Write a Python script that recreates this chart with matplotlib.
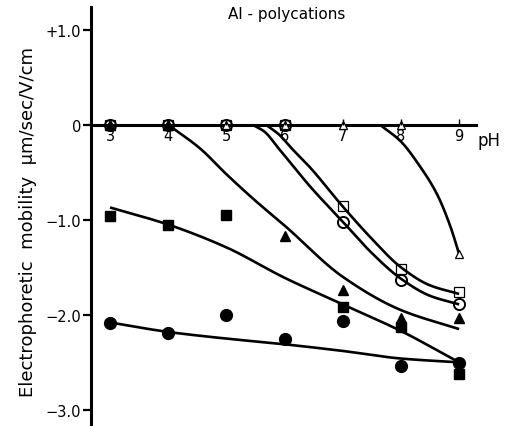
import matplotlib
matplotlib.use("Agg")
import matplotlib.pyplot as plt
import numpy as np

plt.rcParams['font.family'] = ['DejaVu Sans']

# measured points
ph = [3, 4, 5, 6, 7, 8, 9]
filled_circle = [-2.09, -2.19, -2.0, -2.25, -2.06, -2.54, -2.51]
sq_ph = [3, 4, 5, 7, 8, 9]
filled_square = [-0.96, -1.05, -0.95, -1.92, -2.13, -2.62]
tri_ph = [3, 4, 6, 7, 8, 9]
filled_tri = [0, 0, -1.17, -1.74, -2.03, -2.03]
open_tri = [0, 0, 0, 0, 0, 0, -1.36]
open_circle = [0, 0, 0, 0, -1.02, -1.63, -1.89]
open_square = [0, 0, 0, 0, -0.85, -1.52, -1.76]

# hand-drawn fitted curves
curve_a_x = [3, 4, 5, 6, 7, 8, 9]
curve_a_y = [-2.08, -2.18, -2.25, -2.31, -2.38, -2.46, -2.50]
curve_b_x = [3, 4, 5, 6, 7, 8, 9]
curve_b_y = [-0.87, -1.05, -1.29, -1.61, -1.89, -2.17, -2.50]
curve_c_x = [4, 4.55, 5, 5.5, 6, 7, 8, 9]
curve_c_y = [0, -0.25, -0.52, -0.8, -1.06, -1.6, -1.95, -2.15]
curve_d_x = [5.45, 5.65, 5.9, 6.44, 7, 7.5, 8, 8.5, 9]
curve_d_y = [0, -0.07, -0.25, -0.65, -1.02, -1.35, -1.62, -1.8, -1.89]
curve_e_x = [5.68, 5.9, 6.14, 6.44, 7, 7.5, 8, 8.5, 9]
curve_e_y = [0, -0.1, -0.26, -0.45, -0.86, -1.2, -1.5, -1.69, -1.78]
curve_f_x = [7.64, 7.99, 8.33, 8.62, 8.85, 9]
curve_f_y = [0, -0.17, -0.44, -0.73, -1.07, -1.36]

yticks = [1.0, 0, -1.0, -2.0, -3.0]
ytick_labels = ['+1.0', '0', '\u22121.0', '\u22122.0', '\u22123.0']


def smooth(xs, ys, n=200):
    # monotone cubic (pchip-like) through the read points
    x = np.asarray(xs, float)
    y = np.asarray(ys, float)
    h = np.diff(x)
    d = np.diff(y) / h
    m = np.zeros_like(y)
    m[0], m[-1] = d[0], d[-1]
    for i in range(1, len(x) - 1):
        if d[i - 1] * d[i] > 0:
            w1 = 2 * h[i] + h[i - 1]
            w2 = h[i] + 2 * h[i - 1]
            m[i] = (w1 + w2) / (w1 / d[i - 1] + w2 / d[i])
    xx = np.linspace(x[0], x[-1], n)
    k = np.clip(np.searchsorted(x, xx) - 1, 0, len(x) - 2)
    t = (xx - x[k]) / h[k]
    h00 = 2 * t**3 - 3 * t**2 + 1
    h10 = t**3 - 2 * t**2 + t
    h01 = -2 * t**3 + 3 * t**2
    h11 = t**3 - t**2
    yy = h00 * y[k] + h10 * h[k] * m[k] + h01 * y[k + 1] + h11 * h[k] * m[k + 1]
    return xx, yy


fig = plt.figure(figsize=(5.06, 4.27), dpi=100)
ax = fig.add_axes([91 / 506, 0, (476 - 91) / 506, 1 - 8 / 427])
ax.set_xlim(2.673, 9.29)
ax.set_ylim(-3.17, 1.24)

for cx, cy in [(curve_a_x, curve_a_y), (curve_b_x, curve_b_y), (curve_c_x, curve_c_y),
               (curve_d_x, curve_d_y), (curve_e_x, curve_e_y), (curve_f_x, curve_f_y)]:
    sx, sy = smooth(cx, cy)
    ax.plot(sx, sy, color='black', lw=1.9, solid_capstyle='butt', zorder=2)

ax.plot(ph, open_tri, ls='none', marker='^', ms=6, mfc='white', mec='black', mew=0.9, zorder=3)
ax.plot(ph, open_square, ls='none', marker='s', ms=7.5, mfc='none', mec='black', mew=0.9, zorder=3)
ax.plot(ph, open_circle, ls='none', marker='o', ms=8, mfc='none', mec='black', mew=1.4, zorder=3)
ax.plot(tri_ph, filled_tri, ls='none', marker='^', ms=7, color='black', zorder=3)
ax.plot(sq_ph, filled_square, ls='none', marker='s', ms=6.5, color='black', zorder=3)
ax.plot(ph, filled_circle, ls='none', marker='o', ms=8.5, color='black', zorder=3)

for s in ['top', 'right']:
    ax.spines[s].set_visible(False)
ax.spines['bottom'].set_position(('data', 0))
ax.spines['bottom'].set_linewidth(2.2)
ax.spines['left'].set_linewidth(2.2)
ax.xaxis.set_zorder(4)

ax.set_xticks(ph)
ax.set_xticklabels([str(p) for p in ph], fontsize=10.5)
ax.tick_params(axis='x', direction='in', length=4, width=1, pad=2)
ax.set_yticks(yticks)
ax.set_yticklabels(ytick_labels, fontsize=10.5)
ax.tick_params(axis='y', direction='out', length=6, width=1.6, pad=1)

ax.text(9.31, -0.07, 'pH', fontsize=12, ha='left', va='top', clip_on=False)
fig.text(287 / 506, 1 - 15 / 427, 'Al - polycations', fontsize=11, ha='center', va='center')
fig.text(28 / 506, 1 - 222 / 427, 'Electrophoretic  mobility  \u03bcm/sec/V/cm',
         fontsize=13, rotation=90, ha='center', va='center')

fig.savefig('out.png', dpi=100)
